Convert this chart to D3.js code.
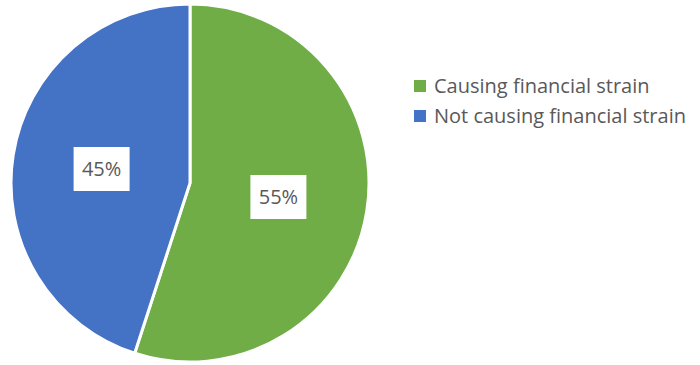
<!DOCTYPE html>
<html>
<head>
<meta charset="utf-8">
<script src="https://cdn.jsdelivr.net/npm/d3@7"></script>
<style>
  body { margin: 0; background: #fff; }
  svg text { font-family: "Open Sans", "Noto Sans", sans-serif; fill: #595959; }
</style>
</head>
<body>
<div id="chart"></div>
<script>
var categories = ["Causing financial strain", "Not causing financial strain"];
var values = [55, 45];
var colors = ["#70AD47", "#4472C4"];

var width = 700, height = 365;
var cx = 190, cy = 183, radius = 179;

var svg = d3.select("#chart").append("svg")
    .attr("width", width)
    .attr("height", height);

var pie = d3.pie().sort(null).value(function(d) { return d; });
var arc = d3.arc().innerRadius(0).outerRadius(radius);
var arcs = pie(values);

var g = svg.append("g")
    .attr("transform", "translate(" + cx + "," + cy + ")");

g.selectAll("path.slice")
    .data(arcs)
    .enter().append("path")
    .attr("class", "slice")
    .attr("d", arc)
    .attr("fill", function(d, i) { return colors[i]; })
    .attr("stroke", "#fff")
    .attr("stroke-width", 3)
    .attr("stroke-linejoin", "round");

// data labels in white boxes at slice centroids
var labels = g.selectAll("g.label")
    .data(arcs)
    .enter().append("g")
    .attr("class", "label")
    .attr("transform", function(d) {
        var c = arc.centroid(d);
        return "translate(" + c[0] + "," + c[1] + ")";
    });

labels.append("rect")
    .attr("x", -28).attr("y", -22)
    .attr("width", 56).attr("height", 44)
    .attr("fill", "#fff");

labels.append("text")
    .attr("text-anchor", "middle")
    .attr("dy", "0.36em")
    .style("font-size", "20px")
    .text(function(d) { return d.data + "%"; });

// legend
var legend = svg.append("g")
    .attr("transform", "translate(414,86)");

var rows = legend.selectAll("g")
    .data(categories)
    .enter().append("g")
    .attr("transform", function(d, i) { return "translate(0," + (i * 30) + ")"; });

rows.append("rect")
    .attr("x", 0).attr("y", -6)
    .attr("width", 12).attr("height", 12)
    .attr("fill", function(d, i) { return colors[i]; });

rows.append("text")
    .attr("x", 20)
    .attr("dy", "0.36em")
    .style("font-size", "20px")
    .text(function(d) { return d; });
</script>
</body>
</html>
